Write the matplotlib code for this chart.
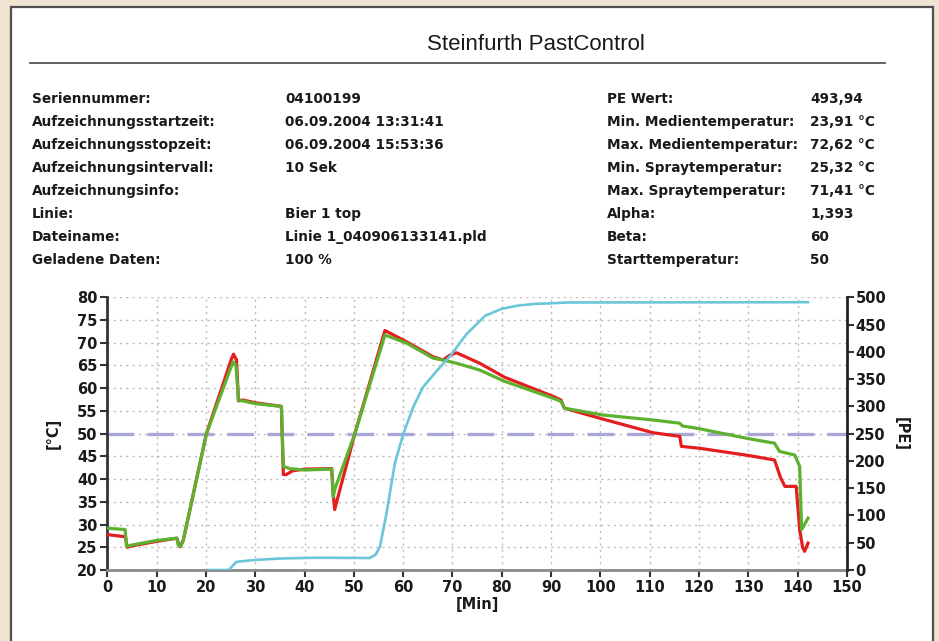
import numpy as np
import matplotlib.pyplot as plt
from matplotlib.patches import Rectangle

plt.rcParams['font.family'] = ['DejaVu Sans']

###  Data

# media temperature (red) : minutes, degC
red_t = [0, 3.7, 4.0, 5, 10, 14.1, 14.5, 14.8, 15.4, 20.1, 25.2, 25.6, 26.2, 26.6, 27.5, 30,
         35.3, 35.7, 36.3, 37.5, 40, 45.5, 45.8, 46.1, 47, 50.2, 56.3, 60.7, 66.1, 68.1, 69.5,
         70.8, 75.5, 80.6, 90.4, 92.0, 92.7, 100.5, 110.7, 116.1, 116.4, 120, 130, 135.3,
         136.5, 137.4, 139.7, 140.4, 141.0, 141.4, 142.1]
red_v = [27.8, 27.3, 25.0, 25.3, 26.3, 27.0, 25.6, 25.1, 26.5, 50, 66.5, 67.5, 66.2, 57.2, 57.4, 56.8,
         56.0, 41.0, 41.0, 41.8, 42.2, 42.3, 37.0, 33.3, 37.0, 50, 72.7, 70.2, 66.9, 66.2, 67.3,
         67.8, 65.5, 62.4, 58.2, 57.4, 55.6, 53.2, 50.2, 49.4, 47.2, 46.8, 45.2, 44.2,
         40.4, 38.4, 38.4, 28.9, 25.0, 24.1, 25.9]

# spray temperature (green) : minutes, degC
green_t = [0, 3.6, 3.9, 5, 10, 14.1, 14.4, 14.8, 15.4, 20.1, 25.5, 26.1, 26.6, 30, 35.3, 35.7,
           37, 40, 45.5, 45.8, 46.2, 50.2, 56.3, 60.7, 66.1, 68.1, 70.8, 75.5, 80.6, 90.4, 92.0,
           92.7, 100.5, 110.7, 116.1, 116.6, 120, 130, 135.3, 136.3, 139.4, 140.4, 140.8, 142.1]
green_v = [29.2, 28.9, 25.2, 25.5, 26.5, 27.0, 25.4, 25.2, 26.5, 50, 65.8, 65.0, 57.4, 56.6, 56.0, 42.8,
           42.3, 42.0, 42.2, 36.1, 38.0, 50, 71.7, 69.9, 66.6, 66.2, 65.5, 64.0, 61.5, 57.8, 57.1,
           55.6, 54.1, 53.0, 52.3, 51.7, 51.1, 48.9, 47.9, 46.1, 45.3, 42.8, 28.9, 31.4]

# PE value (cyan) : minutes, PE
pe_t = [20.4, 24.6, 26.2, 29.4, 34.8, 42.2, 53.2, 54.4, 55.3, 56.6, 58.3, 60, 62, 64, 66.8,
        69.5, 72.8, 76.6, 80, 83.4, 86.8, 90, 93.5, 142.1]
pe_v = [0, 0, 15, 18, 21, 22.5, 22, 28, 43, 103, 195, 249, 298, 335, 365,
        392, 432, 466, 479, 485, 488, 489, 490.5, 491]

info_left = [('Seriennummer:', '04100199'),
             ('Aufzeichnungsstartzeit:', '06.09.2004 13:31:41'),
             ('Aufzeichnungsstopzeit:', '06.09.2004 15:53:36'),
             ('Aufzeichnungsintervall:', '10 Sek'),
             ('Aufzeichnungsinfo:', ''),
             ('Linie:', 'Bier 1 top'),
             ('Dateiname:', 'Linie 1_040906133141.pld'),
             ('Geladene Daten:', '100 %')]
info_right = [('PE Wert:', '493,94'),
              ('Min. Medientemperatur:', '23,91 °C'),
              ('Max. Medientemperatur:', '72,62 °C'),
              ('Min. Spraytemperatur:', '25,32 °C'),
              ('Max. Spraytemperatur:', '71,41 °C'),
              ('Alpha:', '1,393'),
              ('Beta:', '60'),
              ('Starttemperatur:', '50')]

W, H = 939, 641
fig = plt.figure(figsize=(W/100, H/100), dpi=100, facecolor='#EFE4D1')

# white panel
fig.patches.append(Rectangle((10.7/W, -0.05), (932.7-10.7)/W, 1.05 - 7.3/H,
                             transform=fig.transFigure, facecolor='white',
                             edgecolor='#505050', lw=1.6, zorder=-5))

fig.text(536/W, 1-45/H, 'Steinfurth PastControl', ha='center', va='center', fontsize=16,
         family='Liberation Sans', color='#1A1A1A')
fig.add_artist(plt.Line2D([30/W, 885/W], [1-63.3/H, 1-63.3/H], color='#555555', lw=1.3))

txt = dict(fontsize=9.8, fontweight='bold', va='baseline', color='#1A1A1A')
for i in range(8):
	y = 1 - (98 + 23*i + 5)/H
	fig.text(32/W, y, info_left[i][0], **txt)
	fig.text(285/W, y, info_left[i][1], **txt)
	fig.text(607/W, y, info_right[i][0], **txt)
	fig.text(810/W, y, info_right[i][1], **txt)

###  Chart

ax = fig.add_axes([107.3/W, 1-570/H, (847-107.3)/W, (570-297.3)/H])
ax.set_facecolor('none')
ax2 = ax.twinx()

ax.set_xlim(0, 150)
ax.set_ylim(20, 80)
ax2.set_ylim(0, 500)
ax.set_xticks(np.arange(0, 151, 10))
ax.set_yticks(np.arange(20, 81, 5))
ax2.set_yticks(np.arange(0, 501, 50))

ax.grid(True, ls=(0, (1.5, 3)), color='#BBBBBB', lw=1)
ax.axhline(50, color='#A9A7D8', lw=2.4, ls=(0, (8, 4)), zorder=2)

ax.plot(red_t, red_v, color='#E41E1E', lw=2.3, zorder=3)
ax.plot(green_t, green_v, color='#5DB12E', lw=2.3, zorder=4)
ax2.plot(pe_t, pe_v, color='#6CC6DA', lw=1.9)

for a in (ax, ax2):
	a.spines['top'].set_visible(False)
ax.spines['bottom'].set_color('#8A8A8A')
ax.spines['bottom'].set_linewidth(2)
ax.spines['left'].set_color('#333333')
ax.spines['left'].set_linewidth(2)
ax2.spines['right'].set_color('#222222')
ax2.spines['right'].set_linewidth(2)
ax2.spines['bottom'].set_visible(False)
ax2.spines['left'].set_visible(False)
ax.spines['right'].set_visible(False)

ax.tick_params(axis='both', direction='out', length=5, width=1.5, color='#333333', labelsize=10.5, pad=2)
ax2.tick_params(axis='y', direction='out', length=5, width=1.5, color='#333333', labelsize=10.5, pad=1)
for lbl in ax.get_xticklabels() + ax.get_yticklabels() + ax2.get_yticklabels():
	lbl.set_fontweight('bold')
	lbl.set_color('#1A1A1A')

ax.set_xlabel('[Min]', fontsize=10.5, fontweight='bold', color='#1A1A1A', labelpad=2)
ax.set_ylabel('[°C]', fontsize=10.5, fontweight='bold', color='#1A1A1A', labelpad=12)
ax2.set_ylabel('[PE]', fontsize=10.5, fontweight='bold', color='#1A1A1A', rotation=270, labelpad=16)

plt.savefig('out.png', dpi=100, facecolor=fig.get_facecolor())
